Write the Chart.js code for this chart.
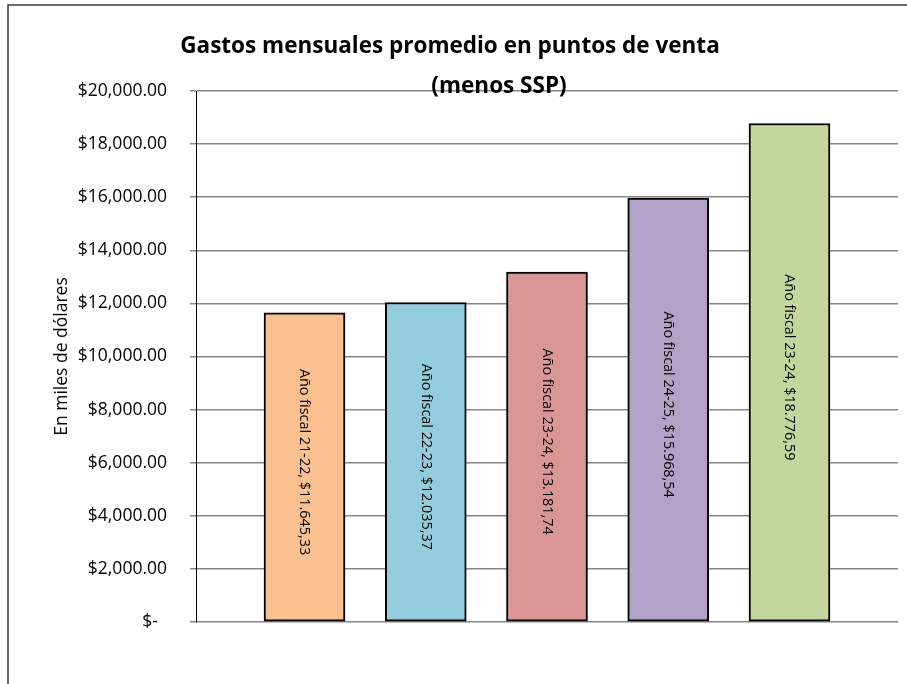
<!DOCTYPE html>
<html><head><meta charset="utf-8">
<script src="https://cdn.jsdelivr.net/npm/chart.js@4.4.1/dist/chart.umd.min.js"></script>
<style>html,body{margin:0;padding:0;background:#fff;overflow:hidden}#wrap{width:907px;height:684px;position:relative}</style>
</head><body><div id="wrap"><canvas id="c" width="907" height="684"></canvas></div>
<script>
const titleLines = ['Gastos mensuales promedio en puntos de venta', '(menos SSP)'];
const yAxisTitle = 'En miles de dólares';
const categories = ['Año fiscal 21-22', 'Año fiscal 22-23', 'Año fiscal 23-24', 'Año fiscal 24-25', 'Año fiscal 23-24'];
const values = [11645.33, 12035.37, 13181.74, 15968.54, 18776.59];
const valueLabels = ['$11.645,33', '$12.035,37', '$13.181,74', '$15.968,54', '$18.776,59'];
const yTickLabels = ['$-  ', '$2,000.00', '$4,000.00', '$6,000.00', '$8,000.00', '$10,000.00', '$12,000.00', '$14,000.00', '$16,000.00', '$18,000.00', '$20,000.00'];
const barColors = ['#FAC090', '#93CDDD', '#D99694', '#B3A2C7', '#C3D69B'];

Chart.defaults.font.family = "'Open Sans', sans-serif";

const framePlugin = {
  id: 'frame',
  beforeDraw(chart) {
    const ctx = chart.ctx;
    ctx.save();
    ctx.fillStyle = '#fff';
    ctx.fillRect(0, 0, chart.width, chart.height);
    ctx.strokeStyle = '#3a3a3a';
    ctx.lineWidth = 1.5;
    ctx.beginPath();
    ctx.moveTo(8, chart.height + 2);
    ctx.lineTo(8, 5);
    ctx.lineTo(chart.width + 2, 5);
    ctx.stroke();
    ctx.restore();
  }
};

const titlePlugin = {
  id: 'twoLineTitle',
  afterDraw(chart) {
    const ctx = chart.ctx;
    ctx.save();
    ctx.font = "bold 22.5px 'Open Sans'";
    ctx.fillStyle = '#000';
    ctx.textAlign = 'center';
    ctx.textBaseline = 'middle';
    ctx.fillText(titleLines[0], 450, 47);
    ctx.fillText(titleLines[1], 499, 87);
    ctx.restore();
  }
};

const barLabelPlugin = {
  id: 'barLabels',
  afterDatasetsDraw(chart) {
    const ctx = chart.ctx;
    const meta = chart.getDatasetMeta(0);
    meta.data.forEach((bar, i) => {
      const cy = (bar.y + bar.base) / 2 - 5;
      ctx.save();
      ctx.translate(bar.x, cy);
      ctx.rotate(Math.PI / 2);
      ctx.font = "14.4px 'Open Sans'";
      ctx.fillStyle = '#000';
      ctx.textAlign = 'center';
      ctx.textBaseline = 'middle';
      ctx.fillText(categories[i] + ', ' + valueLabels[i], 0, 0);
      ctx.restore();
    });
  }
};

new Chart(document.getElementById('c'), {
  type: 'bar',
  data: {
    datasets: [{
      data: values.map((v, i) => ({ x: i, y: v })),
      backgroundColor: barColors,
      borderColor: '#000',
      borderWidth: 2,
      borderSkipped: false,
      barThickness: 81
    }]
  },
  options: {
    responsive: false,
    animation: false,
    layout: { padding: { left: 40, top: 91, right: 9, bottom: 62 } },
    plugins: { legend: { display: false }, tooltip: { enabled: false }, title: { display: false } },
    scales: {
      x: { type: 'linear', display: false, offset: false, min: -0.895, max: 4.895, grid: { offset: false } },
      y: {
        min: 0, max: 20000,
        ticks: {
          stepSize: 2000, padding: 23, color: '#000',
          font: { size: 17.5 },
          callback: (v, i) => yTickLabels[i]
        },
        grid: { color: '#868686', lineWidth: 1.5, tickLength: 6, drawTicks: true },
        border: { display: true, color: '#000', width: 1 },
        title: { display: true, text: yAxisTitle, color: '#000', font: { size: 17.5 }, padding: { top: 11.5, bottom: 0 } },
        afterFit(s) { s.width = 156; }
      }
    }
  },
  plugins: [framePlugin, titlePlugin, barLabelPlugin]
});
</script>
</body></html>
